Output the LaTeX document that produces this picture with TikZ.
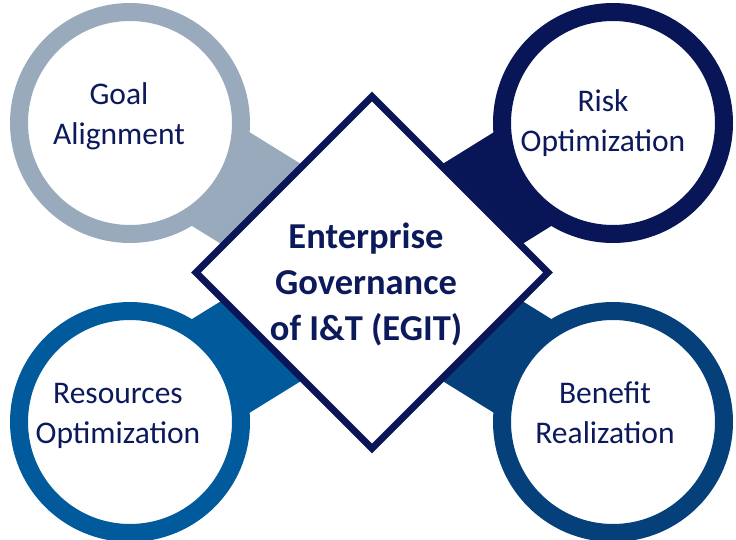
\documentclass[tikz,border=0pt]{standalone}
\usepackage{fontspec}
\setmainfont{Carlito}
\usetikzlibrary{shapes.geometric,backgrounds}
\definecolor{goalc}{RGB}{152,170,188}
\definecolor{riskc}{RGB}{8,22,88}
\definecolor{resc}{RGB}{0,90,155}
\definecolor{benc}{RGB}{5,64,123}
\definecolor{navy}{RGB}{10,22,88}
\definecolor{txtc}{RGB}{12,26,92}
\begin{document}
\begin{tikzpicture}[x=1pt,y=-1pt,
  ring/.style={circle, inner sep=0pt, outer sep=0pt, minimum size=222pt, line width=18pt, fill=white},
  band/.style={line width=110pt},
  lbl/.style={text=txtc, font=\fontsize{31.5}{40}\selectfont, align=center, anchor=base, inner sep=0pt},
  clbl/.style={text=txtc, font=\fontsize{36.5}{46}\selectfont\bfseries, align=center, anchor=base, inner sep=0pt},
  core/.style={diamond, aspect=1, inner sep=0pt, outer sep=0pt, minimum width=352pt, minimum height=352pt, line width=7pt, draw=navy, fill=white}]
\useasboundingbox (0,0) rectangle (736,540);
\node[ring, draw=goalc] (G) at (130,123) {};
\node[ring, draw=riskc] (R) at (613,123) {};
\node[ring, draw=resc] (S) at (130,422) {};
\node[ring, draw=benc] (B) at (613,422) {};
\node[core] (E) at (372,272.5) {};
\begin{pgfonlayer}{background}
\draw[band, goalc] (G.center) -- (E.center);
\draw[band, riskc] (R.center) -- (E.center);
\draw[band, resc] (S.center) -- (E.center);
\draw[band, benc] (B.center) -- (E.center);
\end{pgfonlayer}
\node[lbl] (Gt) at (119,145) {Goal\\Alignment};
\node[lbl] (Rt) at (603,152) {Risk\\Optimization};
\node[lbl] (St) at (118,443) {Resources\\Optimization};
\node[lbl] (Bt) at (605,443) {Benefit\\Realization};
\node[clbl] (Et) at (366,340) {Enterprise\\Governance\\of I\&T (EGIT)};
\end{tikzpicture}
\end{document}
